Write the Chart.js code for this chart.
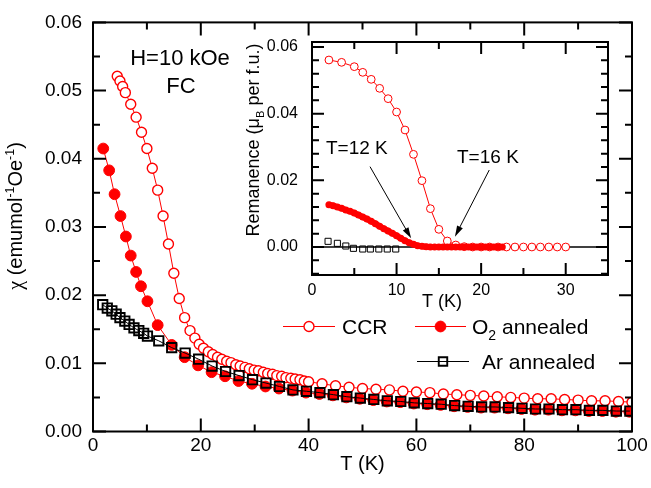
<!DOCTYPE html>
<html>
<head>
<meta charset="utf-8">
<script src="https://cdn.jsdelivr.net/npm/chart.js@4.4.1/dist/chart.umd.min.js"></script>
<style>
  html, body { margin: 0; padding: 0; background: #fff; }
  #wrap { position: relative; width: 651px; height: 488px; }
  #wrap canvas { position: absolute; left: 0; top: 0; }
</style>
</head>
<body>
<div id="wrap">
  <canvas id="mainChart" width="651" height="488"></canvas>
  <canvas id="insetChart" width="651" height="488"></canvas>
</div>
<script>
// main panel: chi vs T, H = 10 kOe, FC
const ccrT = [4.5, 5.0, 5.5, 6.0, 7.0, 8.0, 9.0, 10.0, 11.0, 12.0, 13.0, 14.0, 15.0, 16.0, 17.0, 18.0, 18.9, 19.7,
    20.5, 21.4, 22.2, 23.1, 23.9, 24.8, 25.6, 26.5, 27.3, 28.2, 29.0, 29.9, 30.7, 31.6, 32.4, 33.3, 34.1, 35.0,
    35.8, 36.7, 37.5, 38.4, 39.2, 40.0, 42.5, 45.0, 47.5, 50.0, 52.5, 55.0, 57.5, 60.0, 62.5, 65.0, 67.5, 70.0,
    72.5, 75.0, 77.5, 80.0, 82.5, 85.0, 87.5, 90.0, 92.5, 95.0, 97.5, 100.0];
const ccrChi = [0.0521, 0.0514, 0.0506, 0.0497, 0.0480, 0.0461, 0.0439, 0.0415, 0.0386, 0.0354, 0.0316, 0.0275,
    0.0232, 0.0195, 0.0167, 0.0148, 0.0137, 0.0128, 0.0122, 0.0117, 0.0113, 0.0109, 0.0106, 0.0103, 0.0101,
    0.0098, 0.0096, 0.0094, 0.0092, 0.0090, 0.0089, 0.0087, 0.0085, 0.0084, 0.0082, 0.0081, 0.0079, 0.0078,
    0.0077, 0.0076, 0.0074, 0.0073, 0.0070, 0.0067, 0.0065, 0.0063, 0.0062, 0.0061, 0.0059, 0.0058, 0.0057,
    0.0055, 0.0054, 0.0053, 0.0052, 0.0051, 0.0050, 0.0049, 0.0048, 0.0048, 0.0047, 0.0046, 0.0045, 0.0045,
    0.0044, 0.0043];

const o2T = [1.9, 3.0, 4.0, 5.1, 6.1, 7.0, 8.0, 8.9, 10.1, 12.0, 14.6, 17.0, 19.5, 22.0, 24.5, 27.0, 29.5, 32.0,
    34.5, 37.0, 39.5, 42.0, 44.5, 47.0, 49.5, 52.0, 54.5, 57.0, 59.5, 62.0, 64.5, 67.0, 69.5, 72.0, 74.5, 77.0,
    79.5, 82.0, 84.5, 87.0, 89.5, 92.0, 94.5, 97.0, 99.5];
const o2Chi = [0.0415, 0.0383, 0.0348, 0.0316, 0.0286, 0.0258, 0.0234, 0.0213, 0.0191, 0.0156, 0.0127, 0.0109,
    0.0097, 0.0087, 0.0081, 0.0074, 0.0070, 0.0066, 0.0063, 0.0060, 0.0057, 0.0055, 0.0053, 0.0050, 0.0048,
    0.0046, 0.0044, 0.0043, 0.0041, 0.0040, 0.0039, 0.0037, 0.0036, 0.0035, 0.0035, 0.0034, 0.0033, 0.0032,
    0.0032, 0.0031, 0.0031, 0.0030, 0.0030, 0.0029, 0.0029];

const arT = [1.8, 2.65, 3.5, 4.3, 5.0, 5.9, 6.7, 7.6, 8.5, 9.4, 10.1, 12.2, 14.6, 17.1, 19.6, 22.1, 24.6, 27.1,
    29.6, 32.1, 34.6, 37.1, 39.6, 42.1, 44.6, 47.1, 49.6, 52.1, 54.6, 57.1, 59.6, 62.1, 64.6, 67.1, 69.6, 72.1,
    74.6, 77.1, 79.6, 82.1, 84.6, 87.1, 89.6, 92.1, 94.6, 97.1, 99.6];
const arChi = [0.0186, 0.0181, 0.0177, 0.0172, 0.0167, 0.0162, 0.0157, 0.0152, 0.0148, 0.0144, 0.0140, 0.0133,
    0.0123, 0.0115, 0.0106, 0.0096, 0.0088, 0.0082, 0.0076, 0.0071, 0.0066, 0.0061, 0.0059, 0.0057, 0.0054,
    0.0051, 0.0049, 0.0047, 0.0045, 0.0044, 0.0042, 0.0041, 0.0040, 0.0038, 0.0037, 0.0036, 0.0036, 0.0035,
    0.0034, 0.0033, 0.0033, 0.0032, 0.0032, 0.0031, 0.0031, 0.0030, 0.0030];

// inset: remanence vs T
const remCcrT = [2, 3.5, 5, 6, 7, 8, 9, 10, 11, 12, 13, 14, 15, 16, 17, 18, 19, 20, 21, 22, 23, 24, 25, 26, 27,
    28, 29, 30];
const remCcr = [0.0561, 0.0554, 0.0541, 0.0524, 0.0503, 0.0476, 0.0445, 0.0405, 0.0351, 0.0278, 0.0199, 0.0115,
    0.0053, 0.0018, 0.0006, 0.0001, 0, 0, 0, 0, 0, 0, 0, 0, 0, 0, 0, 0];

const remO2T = [2.0, 2.5, 3.0, 3.5, 4.0, 4.5, 5.0, 5.5, 6.0, 6.5, 7.0, 7.5, 8.0, 8.5, 9.0, 9.5, 10.0, 10.5, 11.0,
    11.5, 12.0, 12.5, 13.0, 13.5, 14.0, 14.5, 15.0, 15.5, 16.0, 16.5, 17.0, 17.5, 18.0, 18.5, 19.0, 19.5, 20.0,
    20.5, 21.0, 21.5, 22.0, 22.5];
const remO2 = [0.0127, 0.0124, 0.0120, 0.0116, 0.0111, 0.0107, 0.0102, 0.0096, 0.0090, 0.0084, 0.0077, 0.0070,
    0.0062, 0.0055, 0.0048, 0.0041, 0.0034, 0.0026, 0.0019, 0.0013, 0.0008, 0.0004, 0.0002, 0.0001, 0, 0, 0, 0,
    0, 0, 0, 0, 0, 0, 0, 0, 0, 0, 0, 0, 0, 0];

const remArT = [1.9, 3.0, 4.0, 4.9, 6.0, 6.9, 7.9, 8.9, 9.9];
const remAr = [0.0017, 0.0011, 0.0003, -0.0004, -0.0006, -0.0006, -0.0006, -0.0006, -0.0006];

// ticks
const mainXTicks = [0, 20, 40, 60, 80, 100];
const mainXMinor = [10, 30, 50, 70, 90];
const mainYTicks = [0, 0.01, 0.02, 0.03, 0.04, 0.05, 0.06];
const mainYMinor = [0.005, 0.015, 0.025, 0.035, 0.045, 0.055];
const insetXTicks = [0, 10, 20, 30];
const insetXMinor = [5, 15, 25];
const insetYTicks = [0, 0.02, 0.04, 0.06];
const insetYMinor = [-0.008, -0.004, 0.004, 0.008, 0.012, 0.016, 0.024, 0.028, 0.032, 0.036, 0.044, 0.048, 0.052, 0.056];

// arrows in the inset (data coords)
const arrow12 = { from: [6.86, 0.0241], to: [11.72, 0.0026], label: 'T=12 K', at: [5.3, 0.0300] };
const arrow16 = { from: [20.96, 0.0231], to: [16.9, 0.0031], label: 'T=16 K', at: [20.8, 0.0273] };

const FONT = "'Liberation Sans', Arial, sans-serif";
const RED = '#ff0000';

const zip = (xs, ys) => xs.map((x, i) => ({ x: x, y: ys[i] }));

function partFont(p, size) {
    const sz = p.s ? size * 0.62 : size;
    return `${sz}px ${p.f || FONT}`;
}

function drawRich(ctx, parts, x, y, size, rot) {
    ctx.save();
    ctx.translate(x, y);
    ctx.rotate(rot || 0);
    let total = 0;
    parts.forEach(p => {
        ctx.font = partFont(p, size);
        p.w = ctx.measureText(p.t).width;
        total += p.w;
    });
    let cx = -total / 2;
    ctx.fillStyle = '#000';
    ctx.textAlign = 'left';
    ctx.textBaseline = 'alphabetic';
    parts.forEach(p => {
        ctx.font = partFont(p, size);
        let dy = 0;
        if (p.s === 'sup') dy = -size * 0.42;
        if (p.s === 'sub') dy = size * 0.25;
        ctx.fillText(p.t, cx, size * 0.36 + dy);
        cx += p.w;
    });
    ctx.restore();
}

function drawFrame(chart, t) {
    const { ctx, chartArea: a, scales: { x, y } } = chart;
    ctx.save();
    ctx.strokeStyle = '#000';
    ctx.lineWidth = 2;
    ctx.beginPath();
    const vTick = (v, len) => {
        const px = x.getPixelForValue(v);
        ctx.moveTo(px, a.bottom); ctx.lineTo(px, a.bottom - len);
        ctx.moveTo(px, a.top); ctx.lineTo(px, a.top + len);
    };
    const hTick = (v, len) => {
        const py = y.getPixelForValue(v);
        ctx.moveTo(a.left, py); ctx.lineTo(a.left + len, py);
        ctx.moveTo(a.right, py); ctx.lineTo(a.right - len, py);
    };
    t.xMajor.forEach(v => vTick(v, t.major));
    t.xMinor.forEach(v => vTick(v, t.minor));
    t.yMajor.forEach(v => hTick(v, t.major));
    t.yMinor.forEach(v => hTick(v, t.minor));
    ctx.stroke();
    ctx.strokeRect(a.left, a.top, a.right - a.left, a.bottom - a.top);
    ctx.restore();
}

function legendItem(ctx, x0, x1, y, ds, parts, textX) {
    const cx = (x0 + x1) / 2;
    ctx.save();
    ctx.strokeStyle = ds.borderColor;
    ctx.lineWidth = 1;
    ctx.beginPath();
    ctx.moveTo(x0, y); ctx.lineTo(x1, y);
    ctx.stroke();
    ctx.fillStyle = ds.pointBackgroundColor;
    ctx.strokeStyle = ds.pointBorderColor;
    ctx.lineWidth = ds.pointBorderWidth;
    ctx.beginPath();
    if (ds.pointStyle === 'rect') {
        const h = ds.pointRadius * Math.SQRT1_2;
        ctx.rect(cx - h, y - h, 2 * h, 2 * h);
    } else {
        ctx.arc(cx, y, ds.pointRadius, 0, Math.PI * 2);
    }
    ctx.fill();
    ctx.stroke();
    ctx.restore();
    let tx = textX;
    ctx.save();
    ctx.fillStyle = '#000';
    ctx.textBaseline = 'alphabetic';
    parts.forEach(p => {
        const sz = p.s ? 14 : 21;
        ctx.font = `${sz}px ${FONT}`;
        ctx.fillText(p.t, tx, y + 7.5 + (p.s === 'sub' ? 6 : 0));
        tx += ctx.measureText(p.t).width;
    });
    ctx.restore();
}

const ccrSet = {
    label: 'CCR', data: zip(ccrT, ccrChi), order: 2,
    borderColor: RED, borderWidth: 1, pointStyle: 'circle', pointRadius: 5,
    pointBorderWidth: 1.4, pointBackgroundColor: '#fff', pointBorderColor: RED
};
const o2Set = {
    label: 'O2 annealed', data: zip(o2T, o2Chi), order: 1,
    borderColor: RED, borderWidth: 1, pointStyle: 'circle', pointRadius: 5.4,
    pointBorderWidth: 1, pointBackgroundColor: RED, pointBorderColor: RED
};
const arSet = {
    label: 'Ar annealed', data: zip(arT, arChi), order: 0,
    borderColor: '#000', borderWidth: 1, pointStyle: 'rect', pointRadius: 6.6,
    pointBorderWidth: 1.9, pointBackgroundColor: 'rgba(0,0,0,0)', pointBorderColor: '#000'
};

const mainDecor = {
    id: 'mainDecor',
    afterDraw(chart) {
        const ctx = chart.ctx;
        drawFrame(chart, { xMajor: mainXTicks, xMinor: mainXMinor, yMajor: mainYTicks, yMinor: mainYMinor, major: 13, minor: 7 });
        const a = chart.chartArea;
        drawRich(ctx, [{ t: 'T (K)' }], (a.left + a.right) / 2, 463, 20, 0);
        drawRich(ctx, [{ t: 'χ', f: "'Liberation Serif', serif" }, { t: ' (emumol' }, { t: '-1', s: 'sup' },
            { t: 'Oe' }, { t: '-1', s: 'sup' }, { t: ')' }], 15, 216, 20, -Math.PI / 2);
        drawRich(ctx, [{ t: 'H=10 kOe' }], 180, 57, 22, 0);
        drawRich(ctx, [{ t: 'FC' }], 181, 85, 22, 0);
        legendItem(ctx, 283, 335, 326.5, ccrSet, [{ t: 'CCR' }], 342);
        legendItem(ctx, 415, 466, 326.5, o2Set, [{ t: 'O' }, { t: '2', s: 'sub' }, { t: ' annealed' }], 472);
        legendItem(ctx, 417, 469, 361.5, { ...arSet, pointRadius: 6 }, [{ t: 'Ar annealed' }], 482);
    }
};

new Chart(document.getElementById('mainChart'), {
    type: 'line',
    data: { datasets: [ccrSet, o2Set, arSet] },
    options: {
        responsive: false,
        animation: false,
        events: [],
        layout: { padding: { top: 19.5, right: 19, left: 0, bottom: 0 } },
        plugins: { legend: { display: false }, tooltip: { enabled: false } },
        scales: {
            x: {
                type: 'linear', min: 0, max: 100,
                grid: { display: false, drawTicks: false }, border: { display: false },
                ticks: { color: '#000', font: { family: FONT, size: 19 }, padding: 3, maxRotation: 0, autoSkip: false },
                afterBuildTicks: s => { s.ticks = mainXTicks.map(v => ({ value: v })); },
                afterFit: s => { s.height = 56.5; }
            },
            y: {
                type: 'linear', min: 0, max: 0.06,
                grid: { display: false, drawTicks: false }, border: { display: false },
                ticks: {
                    color: '#000', font: { family: FONT, size: 19 }, padding: 11, autoSkip: false,
                    callback: v => v.toFixed(2)
                },
                afterBuildTicks: s => { s.ticks = mainYTicks.map(v => ({ value: v })); },
                afterFit: s => { s.width = 93; }
            }
        }
    },
    plugins: [mainDecor]
});

function drawArrow(ctx, x, y, arrow) {
    const x0 = x.getPixelForValue(arrow.from[0]), y0 = y.getPixelForValue(arrow.from[1]);
    const x1 = x.getPixelForValue(arrow.to[0]), y1 = y.getPixelForValue(arrow.to[1]);
    const ang = Math.atan2(y1 - y0, x1 - x0);
    const len = 11, half = 3.2;
    ctx.save();
    ctx.strokeStyle = '#000';
    ctx.fillStyle = '#000';
    ctx.lineWidth = 1;
    ctx.beginPath();
    ctx.moveTo(x0, y0);
    ctx.lineTo(x1 - len * Math.cos(ang) * 0.8, y1 - len * Math.sin(ang) * 0.8);
    ctx.stroke();
    ctx.beginPath();
    ctx.moveTo(x1, y1);
    ctx.lineTo(x1 - len * Math.cos(ang) + half * Math.sin(ang), y1 - len * Math.sin(ang) - half * Math.cos(ang));
    ctx.lineTo(x1 - len * Math.cos(ang) - half * Math.sin(ang), y1 - len * Math.sin(ang) + half * Math.cos(ang));
    ctx.closePath();
    ctx.fill();
    ctx.restore();
    drawRich(ctx, [{ t: arrow.label }], x.getPixelForValue(arrow.at[0]), y.getPixelForValue(arrow.at[1]), 19, 0);
}

const insetDecor = {
    id: 'insetDecor',
    beforeDatasetsDraw(chart) {
        const { ctx, chartArea: a, scales: { y } } = chart;
        const py = y.getPixelForValue(0);
        ctx.save();
        ctx.strokeStyle = '#000';
        ctx.lineWidth = 1.5;
        ctx.beginPath();
        ctx.moveTo(a.left, py); ctx.lineTo(a.right, py);
        ctx.stroke();
        ctx.restore();
    },
    afterDraw(chart) {
        const { ctx, scales: { x, y } } = chart;
        drawFrame(chart, { xMajor: insetXTicks, xMinor: insetXMinor, yMajor: insetYTicks, yMinor: insetYMinor, major: 12, minor: 7 });
        drawRich(ctx, [{ t: 'T (K)' }], 442, 301, 18, 0);
        drawRich(ctx, [{ t: 'Remanence (μ' }, { t: 'B', s: 'sub' }, { t: ' per f.u.)' }], 253, 140, 18, -Math.PI / 2);
        drawArrow(ctx, x, y, arrow12);
        drawArrow(ctx, x, y, arrow16);
    }
};

new Chart(document.getElementById('insetChart'), {
    type: 'line',
    data: {
        datasets: [
            {
                label: 'CCR', data: zip(remCcrT, remCcr), order: 2,
                borderColor: RED, borderWidth: 1, pointRadius: 3.9, pointBorderWidth: 1,
                pointBackgroundColor: '#fff', pointBorderColor: RED
            },
            {
                label: 'O2 annealed', data: zip(remO2T, remO2), order: 1,
                borderColor: RED, borderWidth: 6, pointRadius: 3.5, pointBorderWidth: 0,
                pointBackgroundColor: RED, pointBorderColor: RED
            },
            {
                label: 'Ar annealed', data: zip(remArT, remAr), order: 0, showLine: false,
                borderColor: '#000', pointStyle: 'rect', pointRadius: 4.3, pointBorderWidth: 1,
                pointBackgroundColor: 'rgba(255,255,255,0)', pointBorderColor: '#000'
            }
        ]
    },
    options: {
        responsive: false,
        animation: false,
        events: [],
        layout: { padding: { top: 42, right: 43, left: 0, bottom: 0 } },
        plugins: { legend: { display: false }, tooltip: { enabled: false } },
        scales: {
            x: {
                type: 'linear', min: 0, max: 35,
                grid: { display: false, drawTicks: false }, border: { display: false },
                ticks: { color: '#000', font: { family: FONT, size: 16 }, padding: 6, maxRotation: 0, autoSkip: false },
                afterBuildTicks: s => { s.ticks = insetXTicks.map(v => ({ value: v })); },
                afterFit: s => { s.height = 213; }
            },
            y: {
                type: 'linear', min: -0.0084, max: 0.0615,
                grid: { display: false, drawTicks: false }, border: { display: false },
                ticks: {
                    color: '#000', font: { family: FONT, size: 16 }, padding: 14, autoSkip: false,
                    callback: v => v.toFixed(2)
                },
                afterBuildTicks: s => { s.ticks = insetYTicks.map(v => ({ value: v })); },
                afterFit: s => { s.width = 312; }
            }
        }
    },
    plugins: [insetDecor]
});
</script>
</body>
</html>
